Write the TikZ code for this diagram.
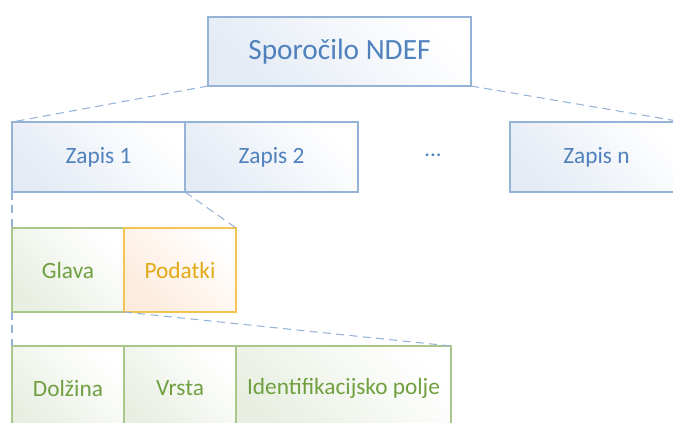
\documentclass[tikz,border=0pt]{standalone}
\usepackage{fontspec}
\setmainfont{Carlito}
\usepackage{xcolor}
\definecolor{ndefline}{HTML}{95B3D7}
\definecolor{ndeftext}{HTML}{4F81BD}
\definecolor{ndeffill}{HTML}{E4EBF5}
\definecolor{hdrline}{HTML}{A9C78A}
\definecolor{hdrtext}{HTML}{70A040}
\definecolor{hdrfill}{HTML}{E8EFE2}
\definecolor{datline}{HTML}{F2C452}
\definecolor{dattext}{HTML}{E2AA14}
\definecolor{datfill}{HTML}{FDEBDD}
\usetikzlibrary{positioning}

\begin{document}
\begin{tikzpicture}[
  x=0.75pt, y=-0.75pt,
  blk/.style={draw, line width=0.8pt, outer sep=0pt, inner sep=0pt,
    minimum height=52.5pt, font=\fontsize{17.5}{20}\selectfont},
  rec/.style={blk, draw=ndefline, text=ndeftext, minimum width=129.75pt,
    top color=ndeffill, bottom color=white, shading angle=135},
  hdr/.style={blk, draw=hdrline, text=hdrtext, minimum width=84pt, minimum height=63pt,
    top color=hdrfill, bottom color=white, shading angle=135},
  dat/.style={hdr, draw=datline, text=dattext, top color=datfill, bottom color=white, shading angle=135},
  zoomline/.style={draw=ndefline, line width=0.8pt, dash pattern=on 6pt off 4pt}
]
  \useasboundingbox (0,0) rectangle (673,423);

  % message
  \node[rec, minimum width=197.25pt, minimum height=51.75pt,
    font=\fontsize{22}{26}\selectfont] (msg) at (339.5,51.5) {Sporočilo NDEF};

  % records
  \node[rec] (rec1) at (98.5,157) {Zapis 1};
  \node[rec] (rec2) at (271.5,157) {Zapis 2};
  \node[text=ndeftext, font=\fontsize{17}{20}\selectfont] (dots) at (433,155) {...};
  \node[rec] (recn) at (596.5,157) {Zapis n};

  % record parts
  \node[hdr] (head) at (68,270) {Glava};
  \node[dat] (data) at (180,270) {Podatki};

  % header fields
  \node[hdr] (len) at (68,388) {Dolžina};
  \node[hdr] (type) at (180,388) {Vrsta};
  \node[hdr, minimum width=161.25pt] (ident) at (343.5,388) {Identifikacijsko polje};

  \draw[zoomline] (msg.south west) -- (rec1.north west);
  \draw[zoomline] (msg.south east) -- (recn.north east);
  \draw[zoomline] (rec1.south west) -- (head.north west);
  \draw[zoomline] (rec1.south east) -- (data.north east);
  \draw[zoomline] (head.south west) -- (len.north west);
  \draw[zoomline] (head.south east) -- (ident.north east);
\end{tikzpicture}
\end{document}
